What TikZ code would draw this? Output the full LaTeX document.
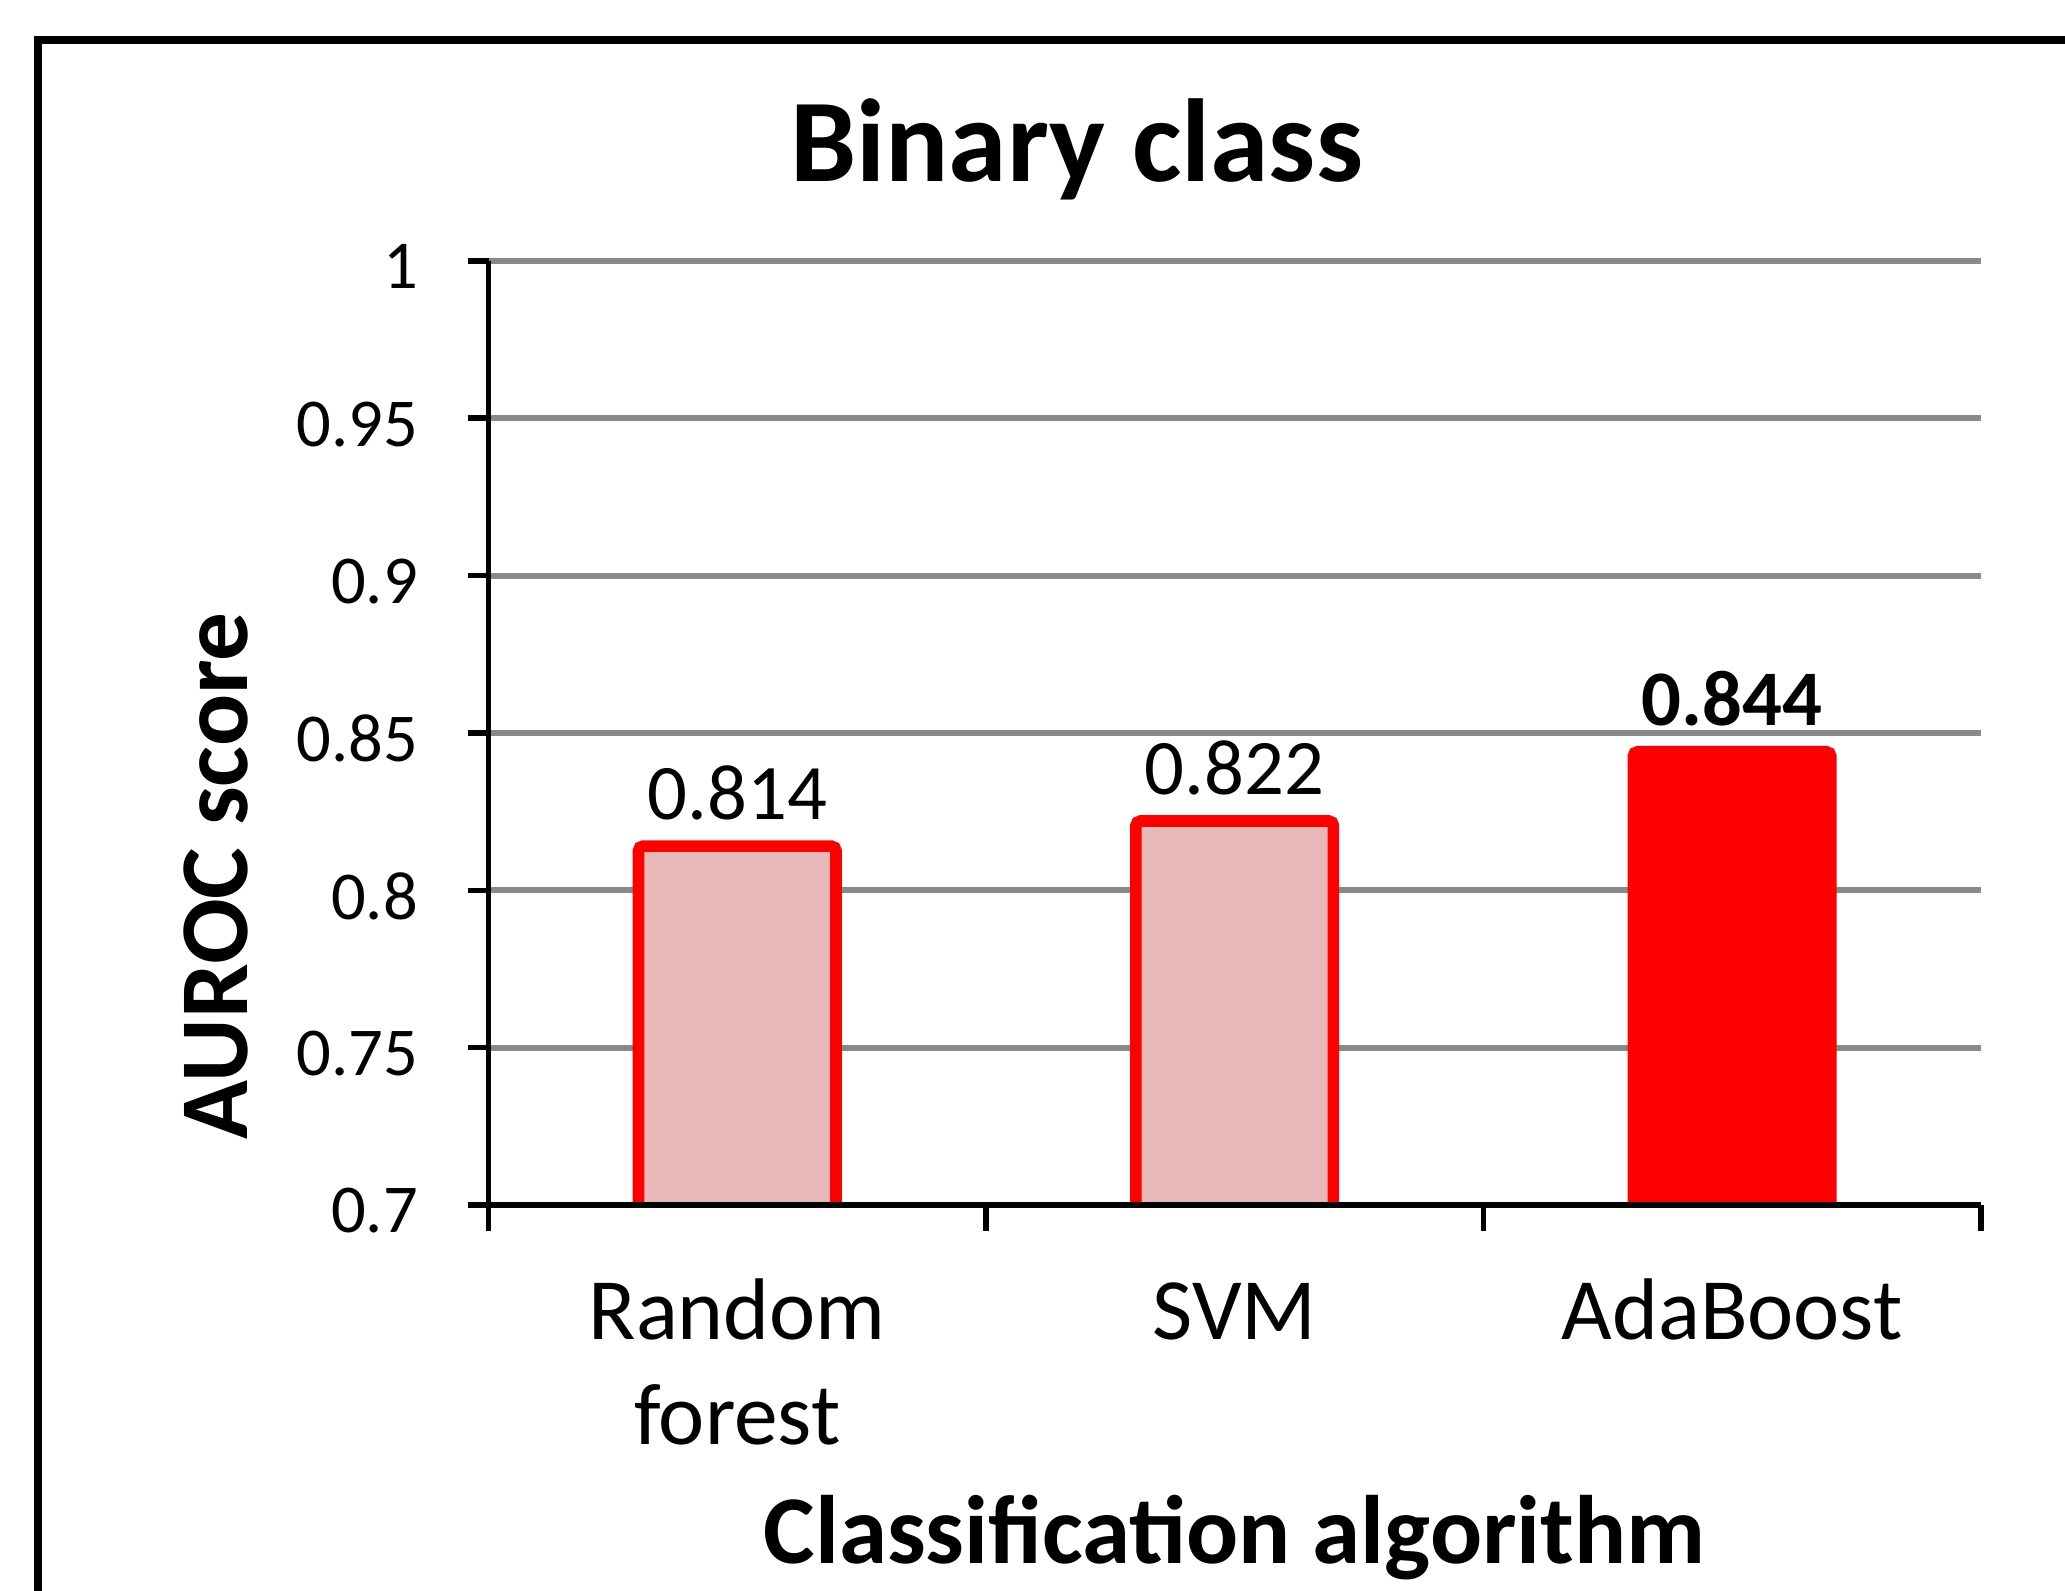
\documentclass[tikz,border=0pt]{standalone}
\usepackage{fontspec}
\setmainfont{Carlito}
\usetikzlibrary{positioning}
\definecolor{gridgrey}{HTML}{898989}
\definecolor{barred}{HTML}{FF0000}
\definecolor{barpink}{HTML}{E6B9B8}

\begin{document}
\begin{tikzpicture}[
  frameline/.style={line width=1.7pt,draw=black},
  gridline/.style={line width=1.3pt,draw=gridgrey},
  axisline/.style={line width=1.2pt,draw=black},
  softbar/.style={draw=barred,fill=barpink,line width=2.5pt,rounded corners=1pt,
                  minimum width=15mm,inner sep=0pt,outer sep=0pt,anchor=south},
  hardbar/.style={softbar,fill=barred},
  ticklab/.style={font=\fontsize{14.8}{17}\selectfont,anchor=east,inner sep=0pt},
  vallab/.style={font=\fontsize{17}{20}\selectfont,anchor=base,inner sep=0pt},
  catlab/.style={font=\fontsize{18.9}{22.8}\selectfont,anchor=base,inner sep=0pt,
                 align=center},
  axtitle/.style={font=\bfseries\fontsize{21}{25}\selectfont,anchor=base,
                  inner sep=0pt},
]
\useasboundingbox (0,0) rectangle (15.68,12.08);
\clip (0,0) rectangle (15.68,12.08);
% frame, cut off at right and bottom
\draw[frameline] (0.29,-0.2) |- (15.9,11.776);
% grid
\foreach \k in {1,...,6}
  \draw[gridline] (3.71,{2.93+1.195*\k}) -- (15.04,{2.93+1.195*\k});
\foreach \k/\lab in {0/0.7,1/0.75,2/0.8,3/0.85,4/0.9,5/0.95,6/1}
  \node[ticklab] (t\k) at (3.18,{2.93+1.195*\k-0.045}) {\lab};
% bars
\begin{scope}
\clip (3.71,2.93) rectangle (15.1,10.5);
\node[softbar,minimum height=27.75mm] (b1) at (5.598,2.88) {};
\node[softbar,minimum height=29.66mm] (b2) at (9.375,2.88) {};
\node[hardbar,minimum height=34.92mm] (b3) at (13.152,2.88) {};
\end{scope}
\node[vallab] (v1) at ([yshift=2mm]b1.north) {0.814};
\node[vallab] (v2) at ([yshift=2mm]b2.north) {0.822};
\node[vallab,font=\bfseries\fontsize{17}{20}\selectfont] (v3)
  at ([yshift=2mm]b3.north) {0.844};
% axes
\foreach \k in {0,...,6}
  \draw[axisline] (3.55,{2.93+1.195*\k}) -- (3.71,{2.93+1.195*\k});
\draw[axisline] (3.71,2.73) -- (3.71,10.10);
\draw[axisline] (3.71,2.93) -- (15.04,2.93);
\foreach \x in {7.487,11.263,15.04}
  \draw[axisline] (\x,2.93) -- (\x,2.73);
% labels (two-line node sits on its last baseline)
\node[catlab] (c1) at (5.598,1.11) {Random\\forest};
\node[catlab] (c2) at (9.375,1.91) {SVM};
\node[catlab] (c3) at (13.152,1.91) {AdaBoost};
\node[axtitle] (xt) at (9.375,0.21) {Classification algorithm};
\node[axtitle,rotate=90] (yt) at (1.88,5.43) {AUROC score};
\node[font=\bfseries\fontsize{25.5}{30}\selectfont,anchor=base,inner sep=0pt]
  (ttl) at (8.175,10.70) {Binary class};
\end{tikzpicture}
\end{document}
